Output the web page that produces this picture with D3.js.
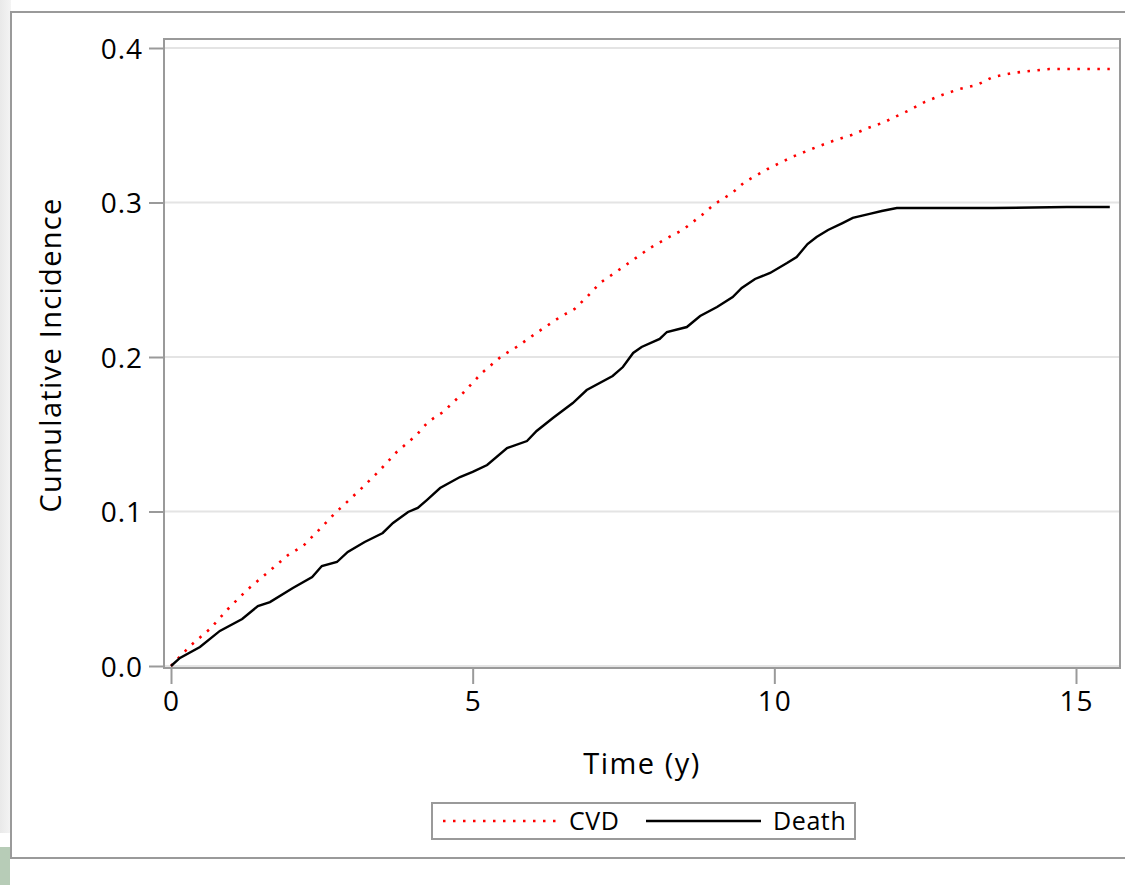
<!DOCTYPE html>
<html>
<head>
<meta charset="utf-8">
<script src="https://cdn.jsdelivr.net/npm/d3@7"></script>
<style>
  body { margin: 0; background: #fff; }
  svg { display: block; font-family: "Open Sans", "Noto Sans", sans-serif; }
</style>
</head>
<body>
<svg id="chart" width="1125" height="885"></svg>
<script>
// Cumulative incidence (time in years)
var cvdTime = [0, 0.315, 0.646, 0.944, 1.26, 1.61, 1.94, 2.19, 2.5, 2.72, 3.13, 3.45, 3.74, 4.07, 4.26,
  4.51, 4.84, 5.15, 5.48, 5.73, 6.08, 6.45, 6.69, 6.91, 7.11, 7.47, 7.94, 8.32, 8.48, 8.8, 9.01, 9.3,
  9.51, 9.89, 10.29, 10.7, 10.97, 11.28, 11.55, 11.83, 11.96, 12.21, 12.49, 12.78, 13.07, 13.36, 13.62,
  13.94, 14.23, 14.56, 15.56];
var cvdCI = [0, 0.0129, 0.024, 0.0369, 0.0492, 0.0608, 0.0718, 0.0777, 0.09, 0.099, 0.1139, 0.1262, 0.1385,
  0.1495, 0.158, 0.1644, 0.1767, 0.1896, 0.2006, 0.2065, 0.2162, 0.2259, 0.2311, 0.2395, 0.2479, 0.2576,
  0.2706, 0.279, 0.2822, 0.2919, 0.299, 0.3061, 0.3133, 0.3217, 0.3294, 0.3359, 0.3398, 0.3437, 0.3482,
  0.3521, 0.3547, 0.3592, 0.365, 0.3696, 0.3735, 0.3761, 0.3812, 0.3838, 0.3851, 0.3864, 0.3864];

var deathTime = [0, 0.149, 0.48, 0.81, 1.18, 1.44, 1.64, 2.02, 2.34, 2.5, 2.75, 2.93, 3.21, 3.51, 3.68,
  3.93, 4.09, 4.24, 4.46, 4.79, 5.0, 5.24, 5.57, 5.9, 6.06, 6.33, 6.66, 6.89, 7.32, 7.49, 7.66, 7.8, 8.1,
  8.22, 8.55, 8.77, 9.05, 9.31, 9.46, 9.68, 9.93, 10.21, 10.37, 10.55, 10.7, 10.89, 11.13, 11.3, 11.58,
  11.78, 12.03, 13.62, 14.85, 15.56];
var deathCI = [0, 0.0052, 0.0123, 0.0227, 0.0304, 0.0388, 0.0414, 0.0505, 0.0576, 0.0647, 0.0673, 0.0738,
  0.0803, 0.0861, 0.0926, 0.0997, 0.1023, 0.1074, 0.1152, 0.1223, 0.1256, 0.1301, 0.1411, 0.1456, 0.1521,
  0.1605, 0.1702, 0.1786, 0.1877, 0.1935, 0.2026, 0.2065, 0.2117, 0.2162, 0.2194, 0.2265, 0.2324, 0.2388,
  0.2447, 0.2505, 0.2544, 0.2608, 0.2647, 0.2731, 0.2777, 0.2822, 0.2867, 0.29, 0.2926, 0.2945, 0.2964,
  0.2964, 0.2971, 0.2971];

var xTicks = [0, 5, 10, 15];
var yTicks = [0.0, 0.1, 0.2, 0.3, 0.4];

var series = [
  { name: "CVD",   time: cvdTime,   ci: cvdCI,   color: "#ff0000", dash: "2.5,7.5" },
  { name: "Death", time: deathTime, ci: deathCI, color: "#000000", dash: null }
];

const FRAME = "#9a9a9a";
const GRID = "#e4e4e4";

let svg = d3.select("#chart");

// window chrome behind the graph
let grad = svg.append("defs").append("linearGradient")
  .attr("id", "side").attr("x1", 0).attr("x2", 1);
grad.append("stop").attr("offset", 0).attr("stop-color", "#e9e9e9");
grad.append("stop").attr("offset", 1).attr("stop-color", "#f4f4f4");
svg.append("rect").attr("x", 0).attr("y", 0).attr("width", 11).attr("height", 833).attr("fill", "url(#side)");
svg.append("rect").attr("x", 0).attr("y", 847).attr("width", 10).attr("height", 38).attr("fill", "#b7ccb7");

// outer graph border
svg.append("rect")
  .attr("x", 11).attr("y", 12)
  .attr("width", 1125).attr("height", 846)
  .attr("fill", "#fff")
  .attr("stroke", FRAME).attr("stroke-width", 2);

// plot area
let plot = { left: 164, top: 39, right: 1120, bottom: 668 };

let x = d3.scaleLinear().domain([0, 15]).range([171, 1076]);
let y = d3.scaleLinear().domain([0, 0.4]).range([666, 48]);

// gridlines
svg.append("g")
  .selectAll("line")
  .data(yTicks)
  .join("line")
  .attr("x1", plot.left).attr("x2", plot.right)
  .attr("y1", d => y(d)).attr("y2", d => y(d))
  .attr("stroke", GRID).attr("stroke-width", 2);

// curves
let line = d3.line()
  .x(d => x(d[0]))
  .y(d => y(d[1]));

svg.append("g")
  .selectAll("path")
  .data(series)
  .join("path")
  .attr("d", s => line(s.time.map((t, i) => [t, s.ci[i]])))
  .attr("fill", "none")
  .attr("stroke", s => s.color)
  .attr("stroke-width", s => s.dash ? 2.6 : 2.4)
  .attr("stroke-dasharray", s => s.dash);

// plot frame
svg.append("rect")
  .attr("x", plot.left).attr("y", plot.top)
  .attr("width", plot.right - plot.left).attr("height", plot.bottom - plot.top)
  .attr("fill", "none")
  .attr("stroke", FRAME).attr("stroke-width", 2);

// axes
let xAxis = svg.append("g")
  .attr("transform", "translate(0," + plot.bottom + ")")
  .call(d3.axisBottom(x).tickValues(xTicks).tickSize(16).tickPadding(7).tickFormat(d3.format("d")));

let yAxis = svg.append("g")
  .attr("transform", "translate(" + plot.left + ",0)")
  .call(d3.axisLeft(y).tickValues(yTicks).tickSize(15).tickPadding(6).tickFormat(d3.format(".1f")));

for (let a of [xAxis, yAxis]) {
  a.select(".domain").remove();
  a.selectAll(".tick line").attr("stroke", FRAME).attr("stroke-width", 2);
  a.selectAll(".tick text")
    .attr("fill", "#000")
    .style("font-family", "\"Open Sans\", \"Noto Sans\", sans-serif")
    .style("font-size", "28px")
    .style("letter-spacing", "1px");
}
yAxis.selectAll(".tick text").attr("dy", "0.36em");

// axis titles
svg.append("text")
  .attr("x", (plot.left + plot.right) / 2).attr("y", 774)
  .attr("text-anchor", "middle")
  .style("font-size", "29px")
  .style("letter-spacing", "1.5px")
  .text("Time (y)");

svg.append("text")
  .attr("transform", "translate(61,355) rotate(-90)")
  .attr("text-anchor", "middle")
  .style("font-size", "29px")
  .style("letter-spacing", "1.3px")
  .text("Cumulative Incidence");

// legend
let legend = svg.append("g");
legend.append("rect")
  .attr("x", 432).attr("y", 803)
  .attr("width", 423).attr("height", 36)
  .attr("fill", "#fff")
  .attr("stroke", FRAME).attr("stroke-width", 2);

let entries = [
  { s: series[0], x0: 443, x1: 557, tx: 569 },
  { s: series[1], x0: 646, x1: 761, tx: 773 }
];
let items = legend.selectAll("g.item")
  .data(entries)
  .join("g")
  .classed("item", true);

items.append("line")
  .attr("x1", d => d.x0).attr("x2", d => d.x1)
  .attr("y1", 821).attr("y2", 821)
  .attr("stroke", d => d.s.color)
  .attr("stroke-width", d => d.s.dash ? 2.6 : 2.4)
  .attr("stroke-dasharray", d => d.s.dash);

items.append("text")
  .attr("x", d => d.tx).attr("y", 830)
  .style("font-size", "25px")
  .style("letter-spacing", "0.6px")
  .text(d => d.s.name);
</script>
</body>
</html>
